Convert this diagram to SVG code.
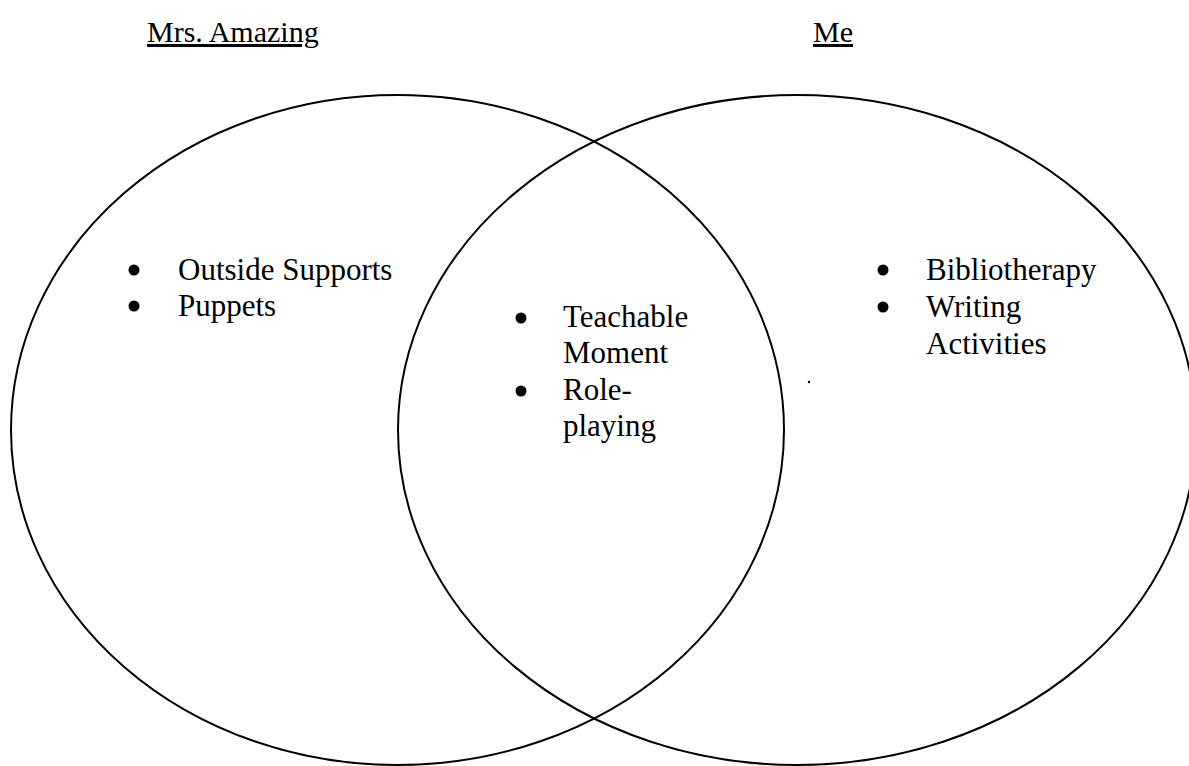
<svg xmlns="http://www.w3.org/2000/svg" width="1189" height="766" viewBox="0 0 1189 766">
  <style>
    .ring { fill: none; stroke: #000; stroke-width: 2; }
    .t { font-family: "Liberation Serif", "Times New Roman", serif; font-size: 31px; fill: #000; }
    .title { font-size: 30px; text-decoration: underline; }
    .b { fill: #000; }
  </style>
  <rect width="1189" height="766" fill="#fff"/>
  <g id="left-set">
    <ellipse class="ring" cx="397.5" cy="430" rx="386.5" ry="335"/>
    <text class="t title" x="147" y="42">Mrs. Amazing</text>
    <circle class="b" cx="134" cy="270" r="5.5"/>
    <text class="t" x="178" y="280">Outside Supports</text>
    <circle class="b" cx="134" cy="306" r="5.5"/>
    <text class="t" x="178" y="316">Puppets</text>
  </g>
  <g id="right-set">
    <ellipse class="ring" cx="797" cy="430" rx="399" ry="335"/>
    <text class="t title" x="813" y="42">Me</text>
    <circle class="b" cx="883" cy="270" r="5.5"/>
    <text class="t" x="926" y="280">Bibliotherapy</text>
    <circle class="b" cx="883" cy="307" r="5.5"/>
    <text class="t" x="926" y="317">Writing</text>
    <text class="t" x="926" y="354">Activities</text>
    <circle class="b" cx="809" cy="382" r="1.2"/>
  </g>
  <g id="overlap">
    <circle class="b" cx="521" cy="318" r="5.5"/>
    <text class="t" x="563" y="327">Teachable</text>
    <text class="t" x="563" y="363">Moment</text>
    <circle class="b" cx="521" cy="391" r="5.5"/>
    <text class="t" x="563" y="400">Role-</text>
    <text class="t" x="563" y="436">playing</text>
  </g>
</svg>
